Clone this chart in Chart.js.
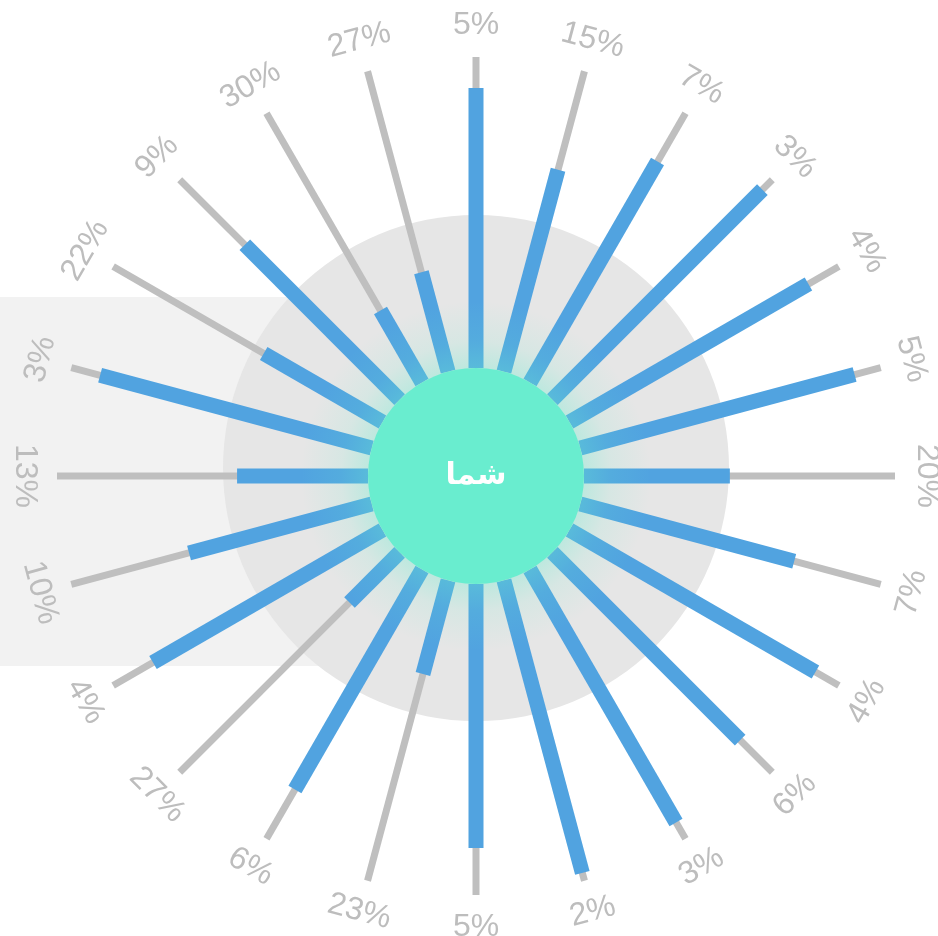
<!DOCTYPE html>
<html>
<head>
<meta charset="utf-8">
<script src="https://cdn.jsdelivr.net/npm/chart.js@4/dist/chart.umd.min.js"></script>
<style>
html,body{margin:0;padding:0;background:#ffffff;}
#wrap{width:938px;height:936px;position:relative;}
</style>
</head>
<body>
<div id="wrap"><canvas id="c" width="938" height="936"></canvas></div>
<script>
// ---- data (clockwise from 12 o'clock) ----
const percentLabels = ['5%','15%','7%','3%','4%','5%','20%','7%','4%','6%','3%','2%',
                       '5%','23%','6%','27%','4%','10%','13%','3%','22%','9%','30%','27%'];
const barValues = [90.0, 67.2, 82.0, 95.5, 88.7, 91.3, 46.9, 71.2, 91.3, 85.4, 93.9, 97.4,
                   84.9, 31.2, 81.7, 22.8, 85.2, 60.8, 42.1, 90.4, 44.1, 70.4, 26.7, 33.1];
const maxValue = 100;
const centerText = 'شما';

// ---- layout / style ----
const INNER = 108, OUTER = 419, LABEL_R = 451;
const GRAY = '#bfbfbf', BLUE = '#51a3e0', GREEN = '#69edcf';

function angleOf(i){ return i * 2 * Math.PI / percentLabels.length; }
function pt(i, r){ const a = angleOf(i); return {x: r * Math.sin(a), y: r * Math.cos(a)}; }

const datasets = [];
// blue value bars (drawn on top: lower order)
barValues.forEach((v, i) => {
  datasets.push({
    order: 0,
    data: [pt(i, INNER), pt(i, INNER + (OUTER - INNER) * v / maxValue)],
    showLine: true, borderColor: BLUE, borderWidth: 15, pointRadius: 0,
    borderCapStyle: 'butt', fill: false
  });
});
// gray full-length tracks
percentLabels.forEach((_, i) => {
  datasets.push({
    order: 1,
    data: [pt(i, INNER), pt(i, OUTER)],
    showLine: true, borderColor: GRAY, borderWidth: 7, pointRadius: 0,
    borderCapStyle: 'butt', fill: false
  });
});

const decor = {
  id: 'decor',
  beforeDatasetsDraw(chart) {
    const ctx = chart.ctx;
    const cx = chart.scales.x.getPixelForValue(0);
    const cy = chart.scales.y.getPixelForValue(0);
    ctx.save();
    ctx.fillStyle = '#f2f2f2';
    ctx.fillRect(0, cy - 179, cx, 369);
    ctx.fillStyle = '#e6e6e6';
    ctx.beginPath();
    ctx.arc(cx, cy - 8, 253, 0, Math.PI * 2);
    ctx.fill();
    ctx.restore();
  },
  afterDatasetsDraw(chart) {
    const ctx = chart.ctx;
    const xs = chart.scales.x, ys = chart.scales.y;
    const cx = xs.getPixelForValue(0);
    const cy = ys.getPixelForValue(0);
    ctx.save();
    // glow
    const g = ctx.createRadialGradient(cx, cy, INNER, cx, cy, 175);
    g.addColorStop(0, 'rgba(105,236,207,0.32)');
    g.addColorStop(0.4, 'rgba(105,236,207,0.12)');
    g.addColorStop(1, 'rgba(105,236,207,0)');
    ctx.fillStyle = g;
    ctx.beginPath();
    ctx.arc(cx, cy, 175, 0, Math.PI * 2);
    ctx.fill();
    // center disc
    ctx.fillStyle = GREEN;
    ctx.beginPath();
    ctx.arc(cx, cy, INNER, 0, Math.PI * 2);
    ctx.fill();
    ctx.fillStyle = '#ffffff';
    ctx.font = 'bold 30px "DejaVu Sans"';
    ctx.textAlign = 'center';
    ctx.textBaseline = 'middle';
    ctx.fillText(centerText, cx, cy);
    // percent labels
    ctx.fillStyle = '#bdbdbd';
    ctx.font = '32px "Liberation Sans", Arial, sans-serif';
    percentLabels.forEach((t, i) => {
      const p = pt(i, LABEL_R);
      const x = xs.getPixelForValue(p.x), y = ys.getPixelForValue(p.y);
      let deg = i * 360 / percentLabels.length;
      if (deg > 90 && deg <= 270) deg -= 180;
      else if (deg > 270) deg -= 360;
      ctx.save();
      ctx.translate(x, y);
      ctx.rotate(deg * Math.PI / 180);
      ctx.fillText(t, 0, 0);
      ctx.restore();
    });
    ctx.restore();
  }
};

new Chart(document.getElementById('c'), {
  type: 'scatter',
  data: { datasets },
  options: {
    responsive: false,
    devicePixelRatio: 1,
    animation: false,
    layout: { padding: 0 },
    plugins: { legend: { display: false }, tooltip: { enabled: false } },
    scales: {
      x: { type: 'linear', min: -476, max: 462, display: false },
      y: { type: 'linear', min: -460, max: 476, display: false }
    },
    elements: { line: { tension: 0 } }
  },
  plugins: [decor]
});
</script>
</body>
</html>
